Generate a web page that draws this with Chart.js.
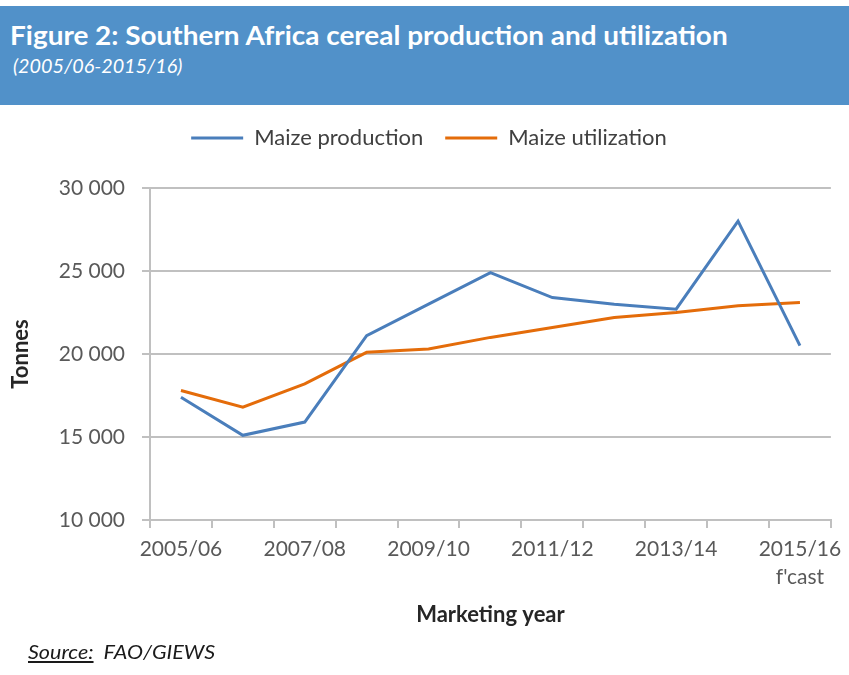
<!DOCTYPE html>
<html>
<head>
<meta charset="utf-8">
<script src="https://cdn.jsdelivr.net/npm/chart.js@4/dist/chart.umd.min.js"></script>
<style>
  html, body { margin: 0; padding: 0; background: #fff; width: 849px; height: 675px; overflow: hidden; font-family: Lato, sans-serif; }
  #header { position: absolute; left: 0; top: 6px; width: 849px; height: 99px; background: #5191c9; color: #fff; }
  #title { position: absolute; left: 10px; top: 12px; font-weight: bold; font-size: 27px; white-space: nowrap; transform-origin: 0 0; }
  #subtitle { position: absolute; left: 13px; top: 47px; font-style: italic; font-size: 20px; white-space: nowrap; transform-origin: 0 0; }
  #chart-box { position: absolute; left: 0; top: 105px; width: 849px; height: 570px; }
  #source { position: absolute; left: 28px; top: 639px; font-style: italic; font-size: 20px; color: #1a1a1a; white-space: nowrap; transform-origin: 0 0; }
  #source u { text-underline-offset: 2px; }
</style>
</head>
<body>
<div id="header">
  <div id="title">Figure 2: Southern Africa cereal production and utilization</div>
  <div id="subtitle">(2005/06-2015/16)</div>
</div>
<div id="chart-box"><canvas id="chart" width="849" height="570"></canvas></div>
<div id="source"><u>Source:</u>&nbsp; FAO/GIEWS</div>

<script>
const categories = ["2005/06", "2006/07", "2007/08", "2008/09", "2009/10", "2010/11",
  "2011/12", "2012/13", "2013/14", "2014/15", "2015/16"];
const tickLabels = ["2005/06", "", "2007/08", "", "2009/10", "", "2011/12", "", "2013/14", "",
  ["2015/16", "f'cast"]];
const maizeProduction = [17400, 15100, 15900, 21100, 23000, 24900, 23400, 23000, 22700, 28000, 20500];
const maizeUtilization = [17800, 16800, 18200, 20100, 20300, 21000, 21600, 22200, 22500, 22900, 23100];

// squeeze header texts to the widths in the original
function fitWidth(id, target) {
  const el = document.getElementById(id);
  el.style.transform = "scaleX(" + target / el.offsetWidth + ")";
}
fitWidth("title", 718);
fitWidth("subtitle", 169);
fitWidth("source", 187);

// extra room between legend and plot, and nudge legend to the right
const legendGap = {
  id: "legendGap",
  beforeInit(chart) {
    const fit = chart.legend.fit;
    chart.legend.fit = function () {
      fit.call(this);
      this.height += 29;
    };
  },
  afterLayout(chart) {
    chart.legend.left += 13;
    chart.legend.right += 13;
  },
};

const gridColor = "#c0c0c0";
const tickFont = { family: "Lato", size: 21, lineHeight: 1.35 };

new Chart(document.getElementById("chart"), {
  type: "line",
  data: {
    labels: categories,
    datasets: [
      {
        label: "Maize production",
        data: maizeProduction,
        borderColor: "#4a7ebb",
        backgroundColor: "#4a7ebb",
        borderWidth: 3,
        pointRadius: 0,
        tension: 0,
      },
      {
        label: "Maize utilization",
        data: maizeUtilization,
        borderColor: "#e46c0a",
        backgroundColor: "#e46c0a",
        borderWidth: 3,
        pointRadius: 0,
        tension: 0,
      },
    ],
  },
  plugins: [legendGap],
  options: {
    responsive: false,
    animation: false,
    layout: { padding: { top: 0, right: 17, bottom: 45, left: 0 } },
    scales: {
      x: {
        offset: true,
        grid: { offset: true, drawOnChartArea: false, color: gridColor, lineWidth: 2, tickLength: 8 },
        border: { color: gridColor, width: 2 },
        ticks: {
          autoSkip: false,
          maxRotation: 0,
          padding: 7,
          color: "#595959",
          font: tickFont,
          callback: (value, index) => tickLabels[index],
        },
        title: {
          display: true,
          text: "Marketing year",
          color: "#262626",
          font: { family: "Lato", size: 22, weight: "bold" },
          padding: { top: 0, bottom: 2 },
        },
        afterFit: (scale) => { scale.height = 110; },
      },
      y: {
        min: 10000,
        max: 30000,
        grid: { color: gridColor, lineWidth: 2, tickLength: 8 },
        border: { color: gridColor, width: 2 },
        ticks: {
          stepSize: 5000,
          padding: 17,
          color: "#595959",
          font: tickFont,
          callback: (value) => String(value).replace(/\B(?=(\d{3})+(?!\d))/g, " "),
        },
        title: {
          display: true,
          text: "Tonnes",
          color: "#262626",
          font: { family: "Lato", size: 22, weight: "bold" },
          padding: { top: 8, bottom: 0 },
        },
        afterFit: (scale) => { scale.width = 150; },
      },
    },
    plugins: {
      legend: {
        position: "top",
        labels: {
          usePointStyle: true,
          pointStyle: "line",
          pointStyleWidth: 52,
          padding: 22,
          color: "#404040",
          font: { family: "Lato", size: 22 },
        },
      },
      tooltip: { enabled: false },
    },
  },
});
</script>
</body>
</html>
